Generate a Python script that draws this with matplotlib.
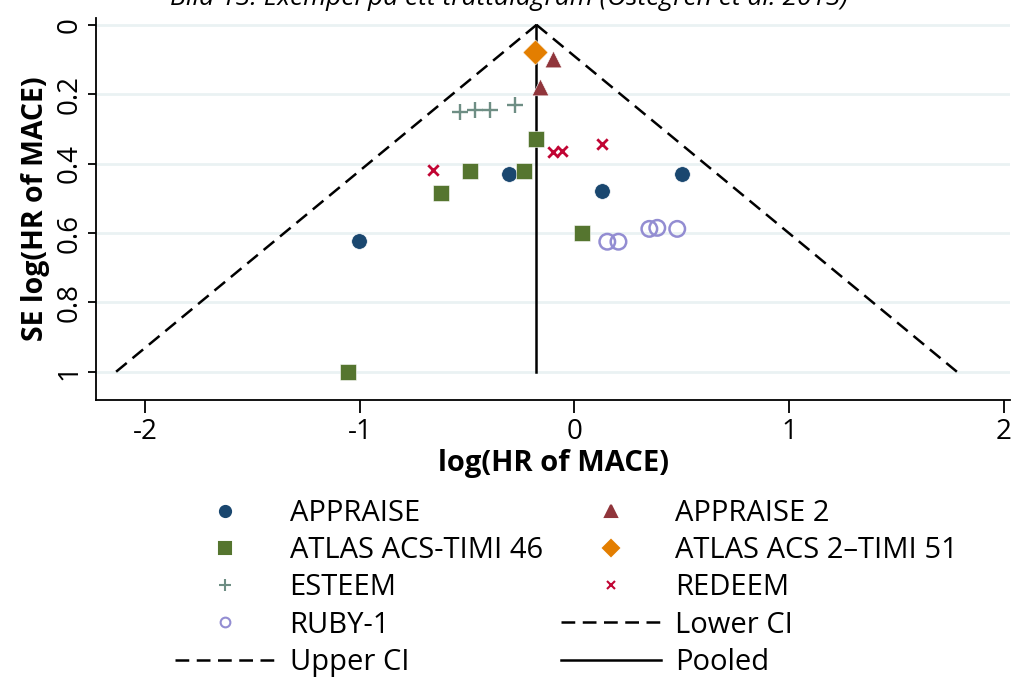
import numpy as np
import matplotlib
matplotlib.use("Agg")
import matplotlib.pyplot as plt
from matplotlib.lines import Line2D

plt.rcParams['font.family'] = ['Open Sans', 'DejaVu Sans']
plt.rcParams['axes.unicode_minus'] = False

# study estimates: log(HR) and its SE
appraise_x = [-0.307, 0.13, 0.502, -1.005]
appraise_se = [0.429, 0.478, 0.429, 0.622]
appraise2_x = [-0.098, -0.163]
appraise2_se = [0.098, 0.179]
atlas46_x = [-0.177, -0.488, -0.233, -0.623, 0.033, -1.056]
atlas46_se = [0.329, 0.421, 0.421, 0.484, 0.600, 1.0]
atlas51_x = [-0.186]
atlas51_se = [0.078]
esteem_x = [-0.535, -0.465, -0.395, -0.279]
esteem_se = [0.25, 0.245, 0.245, 0.23]
redeem_x = [-0.66, -0.098, -0.056, 0.126]
redeem_se = [0.418, 0.366, 0.363, 0.343]
ruby_x = [0.153, 0.205, 0.349, 0.386, 0.479]
ruby_se = [0.625, 0.625, 0.588, 0.585, 0.588]

pooled = -0.177
se_range = [0, 1]

navy = "#1a476f"
maroon = "#90353b"
green = "#55752f"
orange = "#e37e00"
teal = "#6e8e84"
cranberry = "#c10534"
lavender = "#938dd2"

dash = (0, (5.5, 3))
lw = 1.8

fig = plt.figure(figsize=(10.11, 6.79), dpi=100)
ax = fig.add_axes([0.095, 0.411, 0.904, 0.5626])

se = np.array(se_range)
ax.plot(pooled - 1.96 * se, se, color="black", lw=lw, ls=dash)
ax.plot(pooled + 1.96 * se, se, color="black", lw=lw, ls=dash)
ax.plot([pooled, pooled], se, color="black", lw=lw)

ms = 125
ax.scatter(appraise_x, appraise_se, s=ms, marker="o", color=navy, edgecolors="white", linewidths=0.4, zorder=3)
ax.scatter(appraise2_x, appraise2_se, s=ms * 1.15, marker="^", color=maroon, edgecolors="white", linewidths=0.4, zorder=3)
ax.scatter(atlas46_x, atlas46_se, s=ms * 1.05, marker="s", color=green, edgecolors="white", linewidths=0.4, zorder=3)
ax.scatter(atlas51_x, atlas51_se, s=ms * 1.3, marker="D", color=orange, edgecolors="white", linewidths=0.4, zorder=3)
ax.scatter(esteem_x, esteem_se, s=ms * 1.1, marker="+", color=teal, linewidths=1.7, zorder=3)
ax.scatter(redeem_x, redeem_se, s=ms * 0.45, marker="x", color=cranberry, linewidths=2.0, zorder=3)
ax.scatter(ruby_x, ruby_se, s=ms, marker="o", facecolors="none", edgecolors=lavender, linewidths=1.8, zorder=3)

ax.set_xlim(-2.23, 2.03)
ax.set_ylim(1.081, -0.02)
ax.set_xticks([-2, -1, 0, 1, 2])
ax.set_yticks([0, 0.2, 0.4, 0.6, 0.8, 1])
ax.set_yticklabels(["0", "0.2", "0.4", "0.6", "0.8", "1"], rotation=90, va="center")
ax.tick_params(axis="both", labelsize=20, length=9, width=1.3, direction="out", pad=4)
ax.tick_params(axis="y", length=6, pad=3)
ax.grid(axis="y", color="#eaf2f3", lw=2)
ax.set_axisbelow(True)
for s in ["top", "right"]:
    ax.spines[s].set_visible(False)
ax.spines["left"].set_linewidth(1.3)
ax.spines["bottom"].set_linewidth(1.3)

ax.set_xlabel("log(HR of MACE)", fontsize=21, fontweight="bold", labelpad=2)
ax.set_ylabel("SE log(HR of MACE)", fontsize=20.5, fontweight="bold", labelpad=4)

fig.text(0.503, 1.006, "Bild 13. Exempel på ett trattdiagram (Östegren et al. 2013)",
         fontsize=19, style="italic", ha="center", va="center")

def mk(marker, color, fill=True, size=8):
    return Line2D([], [], ls="none", marker=marker, markersize=size,
                  markerfacecolor=color if fill else "none", markeredgecolor=color,
                  markeredgewidth=1.5)

handles = [
    mk("o", navy), mk("s", green), mk("+", teal, size=9), mk("o", lavender, fill=False, size=7),
    Line2D([], [], color="black", lw=lw, ls=dash),
    mk("^", maroon), mk("D", orange), mk("x", cranberry, size=6),
    Line2D([], [], color="black", lw=lw, ls=dash),
    Line2D([], [], color="black", lw=lw),
]
labels = ["APPRAISE", "ATLAS ACS-TIMI 46", "ESTEEM", "RUBY-1", "Upper CI",
          "APPRAISE 2", "ATLAS ACS 2\u2013TIMI 51", "REDEEM", "Lower CI", "Pooled"]
fig.legend(handles, labels, ncol=2, loc="upper left", bbox_to_anchor=(0.173, 0.265),
           frameon=False, fontsize=21, handlelength=3.45, handletextpad=0.48,
           columnspacing=0.62, labelspacing=0.28, borderpad=0, borderaxespad=0)

fig.savefig("out.png", dpi=100)
